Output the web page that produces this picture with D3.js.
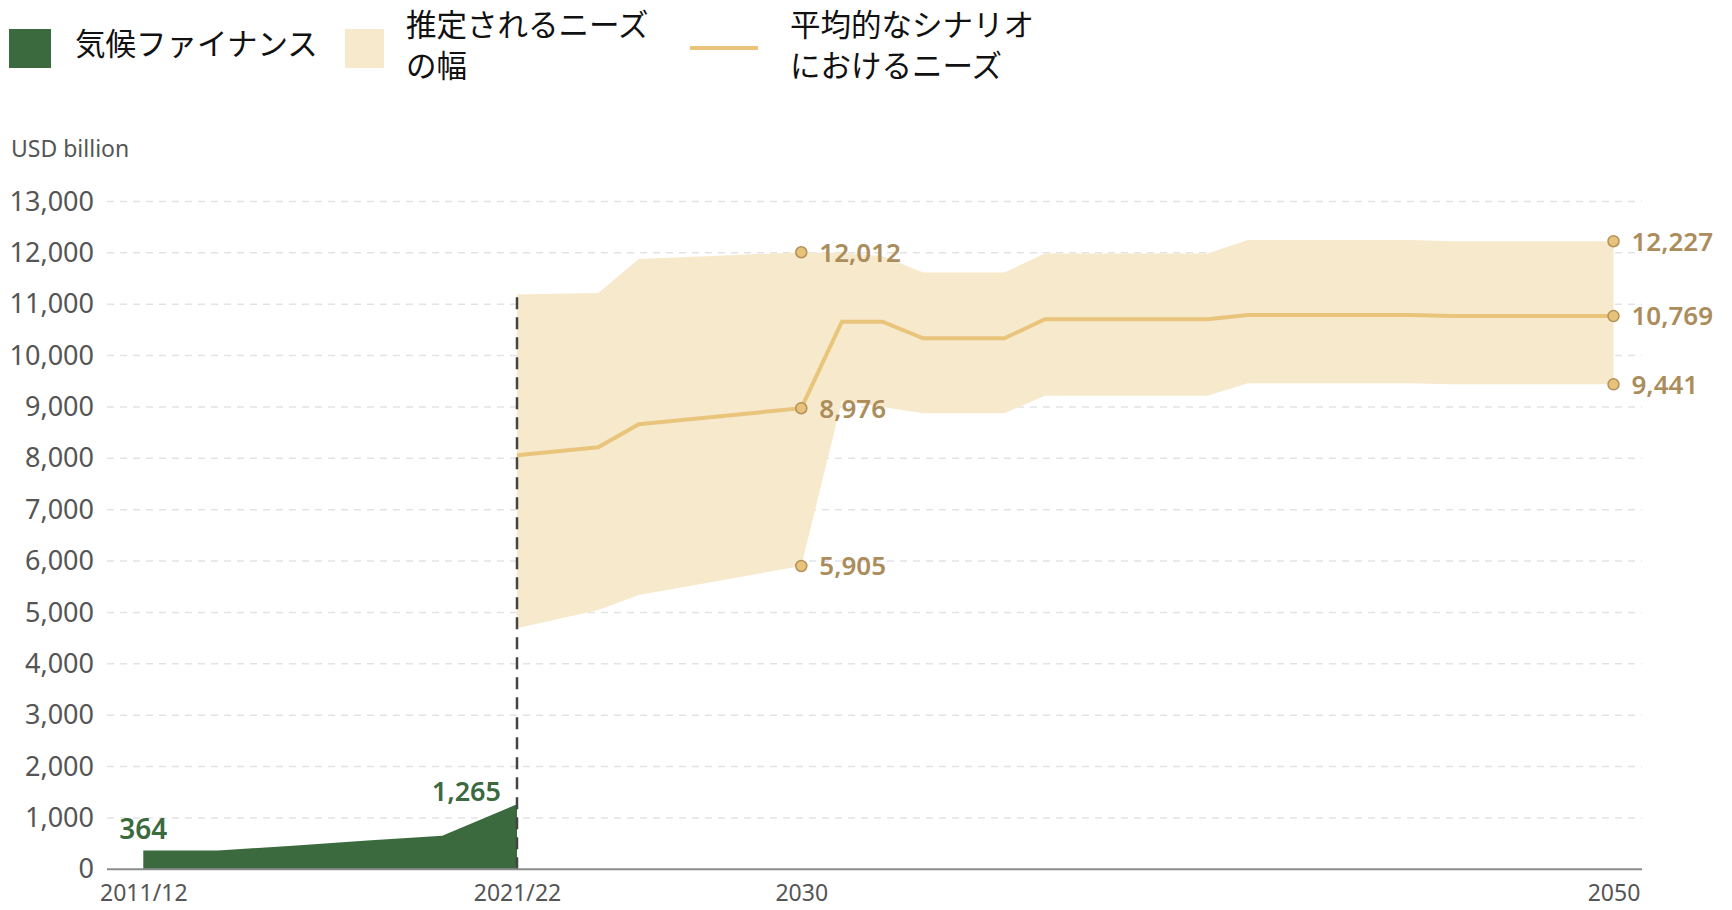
<!DOCTYPE html>
<html>
<head>
<meta charset="utf-8">
<script src="https://cdn.jsdelivr.net/npm/d3@7"></script>
<style>
  body { margin: 0; background: #fff; }
</style>
</head>
<body>
<svg id="drawing_region"></svg>
<script>
// historical climate finance (biennial averages)
const histPeriods = ['2011/12', '2013/14', '2015/16', '2017/18', '2019/20', '2021/22'];
const histYears = [2011, 2013, 2015, 2017, 2019, 2021];
const climateFinance = [364, 364, 460, 560, 653, 1265];

// estimated needs to 2050
const needYears = [2023, 2025, 2026, 2030, 2031, 2032, 2033, 2035, 2036, 2040, 2041, 2045, 2046, 2050];
const needLow  = [4692, 5048, 5340, 5905, 9120, 9000, 8877, 8877, 9220, 9220, 9460, 9460, 9441, 9441];
const needMean = [8059, 8215, 8663, 8976, 10660, 10660, 10337, 10337, 10707, 10707, 10790, 10790, 10769, 10769];
const needHigh = [11190, 11220, 11880, 12012, 12000, 11940, 11616, 11616, 11990, 11990, 12250, 12250, 12227, 12227];

const yTicks = [0, 1000, 2000, 3000, 4000, 5000, 6000, 7000, 8000, 9000, 10000, 11000, 12000, 13000];
const histTickYears = [2011, 2021];
const futureTickYears = [2030, 2050];
const labelledYears = [2030, 2050];

const legendLabels = [
    ['気候ファイナンス'],
    ['推定されるニーズ', 'の幅'],
    ['平均的なシナリオ', 'におけるニーズ']
];

const GREEN = '#3b6a3e';
const BAND = '#f7e9cc';
const LINE = '#e9c47b';
const GOLD = '#ab8c5b';
const NUM_FONT = '"Noto Sans", sans-serif';
const JP_FONT = '"Noto Sans CJK JP", sans-serif';

class NeedsChart {
    constructor(config) {
        this.config = config;
        this.init();
    }

    init() {
        let self = this;
        const c = self.config;

        self.svg = d3.select(c.parent)
            .attr('width', c.width)
            .attr('height', c.height);

        self.y = d3.scaleLinear()
            .domain([0, 13000])
            .range([c.bottom, c.top]);

        self.xHist = d3.scaleLinear()
            .domain([2011, 2021])
            .range([c.histLeft, c.split]);

        self.xFut = d3.scaleLinear()
            .domain([2023, 2050])
            .range([c.split, c.futRight]);

        self.needs = needYears.map((yr, i) => ({
            year: yr, low: needLow[i], mean: needMean[i], high: needHigh[i]
        }));
        self.hist = histYears.map((yr, i) => ({ year: yr, value: climateFinance[i] }));
    }

    render() {
        let self = this;
        const c = self.config;
        const y = self.y;

        // grid
        self.svg.append('g')
            .selectAll('line')
            .data(yTicks.filter(d => d > 0))
            .join('line')
            .attr('x1', c.left)
            .attr('x2', c.right)
            .attr('y1', d => y(d))
            .attr('y2', d => y(d))
            .attr('stroke', '#e3e3e3')
            .attr('stroke-width', 1.5)
            .attr('stroke-dasharray', '7,6');

        // y labels
        const yAxis = self.svg.append('g')
            .attr('transform', `translate(${c.left},0)`)
            .call(d3.axisLeft(y).tickValues(yTicks).tickFormat(d3.format(',')).tickSize(0).tickPadding(13));
        yAxis.select('.domain').remove();
        yAxis.attr('font-family', NUM_FONT).attr('font-size', 27);
        yAxis.selectAll('text').attr('fill', '#555');

        self.svg.append('text')
            .attr('x', 11)
            .attr('y', 157)
            .attr('font-family', NUM_FONT)
            .attr('font-size', 23)
            .attr('fill', '#555')
            .text('USD billion');

        // range of needs
        const band = d3.area()
            .x(d => self.xFut(d.year))
            .y0(d => y(d.low))
            .y1(d => y(d.high));
        self.svg.append('path')
            .datum(self.needs)
            .attr('d', band)
            .attr('fill', BAND);

        const meanLine = d3.line()
            .x(d => self.xFut(d.year))
            .y(d => y(d.mean));
        self.svg.append('path')
            .datum(self.needs)
            .attr('d', meanLine)
            .attr('fill', 'none')
            .attr('stroke', LINE)
            .attr('stroke-width', 4);

        // climate finance
        const area = d3.area()
            .x(d => self.xHist(d.year))
            .y0(y(0))
            .y1(d => y(d.value));
        self.svg.append('path')
            .datum(self.hist)
            .attr('d', area)
            .attr('fill', GREEN);

        // split line
        self.svg.append('line')
            .attr('x1', c.split)
            .attr('x2', c.split)
            .attr('y1', y(0))
            .attr('y2', y(needHigh[0]))
            .attr('stroke', '#444')
            .attr('stroke-width', 2.5)
            .attr('stroke-dasharray', '12,8');

        // baseline
        self.svg.append('line')
            .attr('x1', c.left)
            .attr('x2', c.right)
            .attr('y1', y(0))
            .attr('y2', y(0))
            .attr('stroke', '#8c8c8c')
            .attr('stroke-width', 2);

        // x labels
        const histAxis = self.svg.append('g')
            .attr('transform', `translate(0,${y(0)})`)
            .call(d3.axisBottom(self.xHist).tickValues(histTickYears)
                .tickFormat(d => histPeriods[histYears.indexOf(d)]).tickSize(0).tickPadding(15));
        const futAxis = self.svg.append('g')
            .attr('transform', `translate(0,${y(0)})`)
            .call(d3.axisBottom(self.xFut).tickValues(futureTickYears)
                .tickFormat(d3.format('d')).tickSize(0).tickPadding(15));
        [histAxis, futAxis].forEach(g => {
            g.select('.domain').remove();
            g.attr('font-family', NUM_FONT).attr('font-size', 23);
            g.selectAll('text').attr('fill', '#555');
        });

        // green value labels
        const first = self.hist[0];
        const last = self.hist[self.hist.length - 1];
        self.svg.append('text')
            .attr('x', self.xHist(first.year))
            .attr('y', y(first.value) - 12)
            .attr('text-anchor', 'middle')
            .attr('font-family', NUM_FONT)
            .attr('font-weight', 600)
            .attr('font-size', 28)
            .attr('fill', GREEN)
            .text(d3.format(',')(first.value));
        self.svg.append('text')
            .attr('x', self.xHist(last.year) - 16)
            .attr('y', y(last.value) - 3)
            .attr('text-anchor', 'end')
            .attr('font-family', NUM_FONT)
            .attr('font-weight', 600)
            .attr('font-size', 27)
            .attr('fill', GREEN)
            .text(d3.format(',')(last.value));

        // end points of the needs
        const pts = [];
        self.needs.filter(d => labelledYears.includes(d.year)).forEach(d => {
            ['high', 'mean', 'low'].forEach(k => pts.push({ year: d.year, value: d[k] }));
        });
        self.svg.append('g')
            .selectAll('circle')
            .data(pts)
            .join('circle')
            .attr('cx', d => self.xFut(d.year))
            .attr('cy', d => y(d.value))
            .attr('r', 5.5)
            .attr('fill', '#e6c27b')
            .attr('stroke', '#b39159')
            .attr('stroke-width', 1.5);
        self.svg.append('g')
            .selectAll('text')
            .data(pts)
            .join('text')
            .attr('x', d => self.xFut(d.year) + 18)
            .attr('y', d => y(d.value))
            .attr('dy', '0.36em')
            .attr('font-family', NUM_FONT)
            .attr('font-weight', 600)
            .attr('font-size', 26)
            .attr('fill', GOLD)
            .text(d => d3.format(',')(d.value));

        self.renderLegend();
    }

    renderLegend() {
        let self = this;
        const items = [
            { x: 9, w: 42, textX: 75, kind: 'rect', color: GREEN },
            { x: 345, w: 39, textX: 406, kind: 'rect', color: BAND },
            { x: 690, w: 68, textX: 790, kind: 'line', color: LINE }
        ];
        items.forEach((it, i) => {
            const g = self.svg.append('g');
            if (it.kind === 'rect') {
                g.append('rect')
                    .attr('x', it.x).attr('y', 29)
                    .attr('width', it.w).attr('height', 39)
                    .attr('fill', it.color);
            } else {
                g.append('line')
                    .attr('x1', it.x).attr('x2', it.x + it.w)
                    .attr('y1', 48).attr('y2', 48)
                    .attr('stroke', it.color).attr('stroke-width', 4);
            }
            const lines = legendLabels[i];
            const ys = lines.length === 1 ? [44] : [25, 66];
            g.selectAll('text')
                .data(lines)
                .join('text')
                .attr('x', it.textX)
                .attr('y', (d, j) => ys[j])
                .attr('dy', '0.36em')
                .attr('font-family', JP_FONT)
                .attr('font-size', 30.5)
                .attr('fill', '#111')
                .text(d => d);
        });
    }
}

const chart = new NeedsChart({
    parent: '#drawing_region',
    width: 1732,
    height: 910,
    left: 107,
    right: 1642,
    top: 201.5,
    bottom: 869.3,
    histLeft: 143.3,
    split: 517,
    futRight: 1613.5
});
chart.render();
</script>
</body>
</html>
